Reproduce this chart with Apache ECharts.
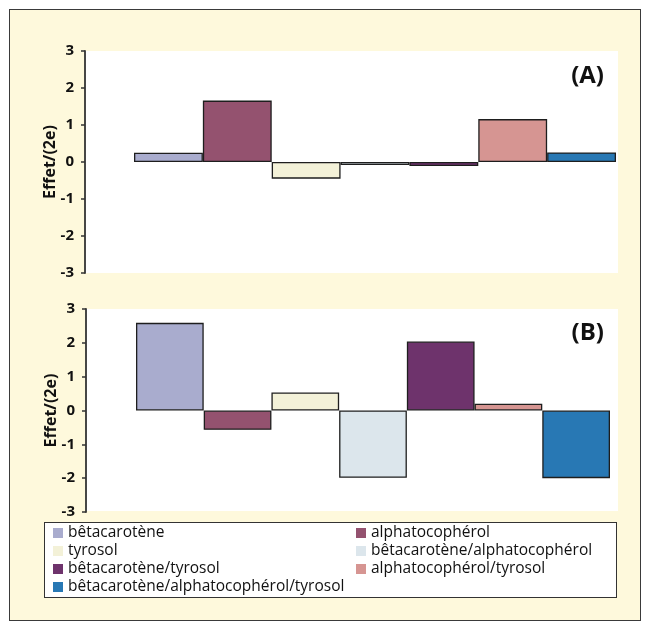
<!DOCTYPE html>
<html>
<head>
<meta charset="utf-8">
<script src="https://cdn.jsdelivr.net/npm/echarts@6/dist/echarts.min.js"></script>
<style>
  html, body { margin: 0; padding: 0; background: #ffffff; }
  #wrap { position: relative; width: 649px; height: 630px; }
  #frame { position: absolute; left: 9px; top: 9px; width: 630px; height: 610px;
           border: 1.5px solid #3a3a3a; background: #fef9dc; }
  #legbox { position: absolute; left: 44px; top: 522px; width: 571px; height: 74px;
            border: 1.5px solid #333; background: #ffffff; }
  #chart { position: absolute; left: 0; top: 0; width: 649px; height: 630px; }
</style>
</head>
<body>
<div id="wrap">
  <div id="frame"></div>
  <div id="legbox"></div>
  <div id="chart"></div>
</div>
<script>
const categories = [
  'bêtacarotène',
  'alphatocophérol',
  'tyrosol',
  'bêtacarotène/alphatocophérol',
  'bêtacarotène/tyrosol',
  'alphatocophérol/tyrosol',
  'bêtacarotène/alphatocophérol/tyrosol'
];
const valuesA = [0.25, 1.66, -0.45, -0.08, -0.11, 1.16, 0.26];
const valuesB = [2.59, -0.57, 0.53, -1.99, 2.04, 0.20, -2.0];
const colors = ['#a9acce', '#94526f', '#f3f1d8', '#dce6ec', '#6e336c', '#d69592', '#2878b4'];
const yTicks = [-3, -2, -1, 0, 1, 2, 3];
const panelLabels = ['(A)', '(B)'];
const axisTitle = 'Effet/(2e)';

const FONT = '"Open Sans", "Noto Sans", sans-serif';

function oneHot(vals, i) {
  return vals.map((v, j) => (j === i ? v : '-'));
}

const series = [];
[valuesA, valuesB].forEach((vals, p) => {
  categories.forEach((name, i) => {
    series.push({
      type: 'bar',
      name: name,
      xAxisIndex: p,
      yAxisIndex: p,
      stack: 'panel' + p,
      barWidth: '100%',
      data: oneHot(vals, i),
      itemStyle: { color: colors[i], borderColor: '#1e1e1e', borderWidth: 1.3 },
      emphasis: { disabled: true }
    });
  });
});

function yAxis(gridIndex, offset) {
  return {
    type: 'value', gridIndex: gridIndex, min: yTicks[0], max: yTicks[yTicks.length - 1], interval: 1,
    offset: offset,
    name: axisTitle, nameLocation: 'middle', nameRotate: 90, nameGap: 27,
    nameMoveOverlap: false,
    nameTextStyle: { fontFamily: FONT, fontWeight: 'bold', fontSize: 16, color: '#111' },
    axisLine: { show: true, lineStyle: { color: '#333', width: 1.8 } },
    axisTick: { show: true, length: 4, lineStyle: { color: '#333', width: 1.5 } },
    axisLabel: { fontFamily: FONT, fontWeight: 'bold', fontSize: 15, color: '#111', margin: 11 },
    splitLine: { show: false }
  };
}

function xAxis(gridIndex) {
  return { type: 'category', gridIndex: gridIndex, data: categories, show: false, boundaryGap: true };
}

const legendCommon = {
  orient: 'vertical', top: 524, itemWidth: 10, itemHeight: 10, itemGap: 0, padding: 0,
  icon: 'rect', selectedMode: false,
  itemStyle: { borderWidth: 0 },
  textStyle: { fontFamily: FONT, fontSize: 15.5, color: '#111', lineHeight: 18 }
};

const option = {
  animation: false,
  backgroundColor: 'transparent',
  title: [
    { text: panelLabels[0], right: 40, top: 59,
      textStyle: { fontFamily: FONT, fontWeight: 'bold', fontSize: 24, color: '#111' } },
    { text: panelLabels[1], right: 40, top: 316,
      textStyle: { fontFamily: FONT, fontWeight: 'bold', fontSize: 24, color: '#111' } }
  ],
  grid: [
    { left: 134, top: 51, width: 482, height: 222 },
    { left: 136, top: 309, width: 474, height: 203 },
    { left: 85, top: 51, width: 533, height: 222, show: true, backgroundColor: '#ffffff', borderWidth: 0, z: -1 },
    { left: 86, top: 309, width: 532, height: 202, show: true, backgroundColor: '#ffffff', borderWidth: 0, z: -1 }
  ],
  xAxis: [xAxis(0), xAxis(1)],
  yAxis: [yAxis(0, 49), yAxis(1, 50)],
  legend: [
    Object.assign({}, legendCommon, { left: 53, data: [categories[0], categories[2], categories[4], categories[6]] }),
    Object.assign({}, legendCommon, { left: 356, data: [categories[1], categories[3], categories[5]] })
  ],
  series: series
};

const chart = echarts.init(document.getElementById('chart'), null, { renderer: 'canvas' });
chart.setOption(option);
</script>
</body>
</html>
